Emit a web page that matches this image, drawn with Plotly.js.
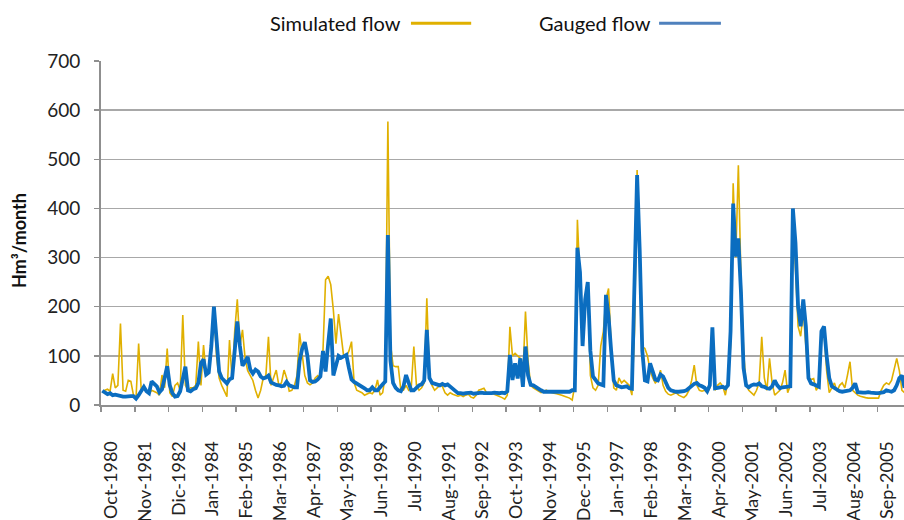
<!DOCTYPE html>
<html>
<head>
<meta charset="utf-8">
<script src="https://cdn.plot.ly/plotly-3.0.1.min.js"></script>
<style>html,body{margin:0;padding:0;background:#fff;}#chart{width:904px;height:520px;}</style>
</head>
<body>
<div id="chart"></div>
<script>
// Monthly series, Oct-1980 onward (Hm3/month)
const simulated = [
25,30,32,28,64,35,40,166,30,28,50,48,20,
15,125,30,35,28,22,30,28,25,20,61,35,
115,25,17,40,45,30,183,40,30,35,35,40,
129,40,122,60,65,110,195,100,55,40,30,17,
132,51,150,215,120,153,95,70,60,50,30,14,
30,55,60,139,40,55,71,40,45,71,55,28,
30,40,60,146,100,60,45,41,45,55,60,55,
110,255,262,245,193,125,185,140,98,98,110,129,
45,30,27,25,20,22,25,23,30,51,20,25,
60,577,125,80,78,78,30,30,40,30,35,119,
40,30,35,45,217,60,40,30,35,40,38,25,
20,25,22,20,18,20,17,20,22,16,14,20,
30,32,34,25,22,24,22,20,18,15,12,20,
159,100,105,100,95,60,190,90,40,35,32,28,
25,27,30,27,25,24,23,22,20,18,16,14,
10,40,377,250,125,200,245,60,35,30,40,120,
150,215,237,120,35,30,55,45,50,45,40,20,
150,478,300,119,115,100,70,55,45,50,71,40,
28,22,20,22,25,20,18,15,20,30,50,81,
40,30,28,30,25,35,150,30,40,45,38,20,
50,120,451,300,488,260,110,40,30,25,20,30,
45,139,55,30,95,45,20,25,30,45,71,25,
40,395,280,160,140,190,120,55,52,54,30,40,
130,150,70,25,35,45,28,40,45,35,60,88,
30,25,20,18,16,15,14,14,14,13,14,30,
40,45,42,50,75,95,70,30,25
];
const gauged = [
29,25,22,24,20,21,19,18,17,17,18,18,18,
13,20,30,37,28,24,48,42,38,26,32,55,
79,40,24,17,18,28,50,78,30,28,32,34,
45,85,93,62,66,120,200,130,68,55,50,44,
52,55,110,170,120,80,88,98,72,64,72,68,
58,54,56,60,46,43,41,40,38,39,47,40,
37,36,36,90,115,128,100,50,47,48,52,58,
110,68,125,176,60,78,100,96,100,102,75,52,
47,44,42,38,34,30,30,36,30,30,35,42,
48,346,90,45,35,30,28,38,61,45,30,30,
35,40,42,50,153,55,45,43,42,40,43,40,
42,38,32,28,24,24,23,24,24,25,23,24,
24,25,24,24,23,24,25,24,24,25,24,28,
102,51,85,54,95,37,119,60,41,40,36,34,
30,27,27,26,26,26,26,26,26,26,27,27,
30,30,320,270,120,215,250,110,58,50,44,42,
40,224,180,110,50,40,37,36,37,38,34,33,
250,468,315,110,50,48,85,66,52,50,62,58,
45,35,30,28,27,27,27,28,30,35,38,43,
45,40,38,35,28,40,158,34,35,36,37,34,
40,150,410,302,339,230,75,40,36,40,42,41,
44,38,37,34,33,38,50,40,34,36,37,37,
38,400,330,200,160,215,160,55,44,42,40,37,
150,160,100,55,38,34,30,28,27,28,30,30,
35,44,26,25,25,25,26,25,24,24,24,25,
26,30,28,27,30,40,55,60,35
];
const tickLabels = ['Oct-1980','Nov-1981','Dic-1982','Jan-1984','Feb-1985','Mar-1986','Apr-1987','May-1988','Jun-1989','Jul-1990','Aug-1991','Sep-1992','Oct-1993','Nov-1994','Dec-1995','Jan-1997','Feb-1998','Mar-1999','Apr-2000','May-2001','Jun-2002','Jul-2003','Aug-2004','Sep-2005'];
const seriesNames = ['Simulated flow', 'Gauged flow'];

const xs = gauged.map((_, i) => i + 0.5);
const tickPos = tickLabels.map((_, k) => 13 * k);
const labelPos = tickLabels.map((_, k) => 13 * k + 4);
const xRange = [0, 309.3];
const font = 'Lato, "Open Sans", sans-serif';
const gold = '#E0B000';
const blue = '#0B6DC0';

const traces = [
  {x: xs, y: simulated, type: 'scatter', mode: 'lines', name: seriesNames[0],
   line: {color: gold, width: 1.6}, hoverinfo: 'skip'},
  {x: xs, y: gauged, type: 'scatter', mode: 'lines', name: seriesNames[1],
   line: {color: blue, width: 3.8}, hoverinfo: 'skip'},
  {x: [], y: [], xaxis: 'x2', type: 'scatter', mode: 'lines', showlegend: false, hoverinfo: 'skip'}
];

const axisGray = '#8f8f8f';
const layout = {
  width: 904, height: 520,
  margin: {l: 101, r: 0, t: 61, b: 115},
  paper_bgcolor: '#fff', plot_bgcolor: '#fff',
  showlegend: false,
  font: {family: font, color: '#222'},
  xaxis: {
    range: xRange, tickmode: 'array', tickvals: labelPos, ticktext: tickLabels,
    tickangle: -90, ticks: 'outside', ticklen: 27, tickcolor: 'rgba(0,0,0,0)',
    showgrid: false, zeroline: false, showline: true, linecolor: axisGray, linewidth: 2,
    tickfont: {family: font, size: 18, color: '#222'}, fixedrange: true
  },
  xaxis2: {
    overlaying: 'x', anchor: 'y', side: 'bottom', range: xRange,
    tickmode: 'array', tickvals: tickPos, ticks: 'outside', ticklen: 6, tickwidth: 1.5,
    tickcolor: axisGray, showticklabels: false, showgrid: false, showline: false, zeroline: false
  },
  yaxis: {
    range: [0, 700], dtick: 100, tick0: 0,
    showgrid: true, gridcolor: '#a8a8a8', gridwidth: 1.5,
    showline: true, linecolor: axisGray, linewidth: 2, zeroline: false,
    ticks: 'outside', ticklen: 5, tickwidth: 1.5, tickcolor: axisGray,
    tickfont: {family: font, size: 19, color: '#222'}, ticklabelstandoff: 10
  },
  annotations: [
    {text: 'Hm³/month', xref: 'paper', yref: 'paper', x: -0.102, y: 0.477,
     xanchor: 'center', yanchor: 'middle', textangle: -90, showarrow: false,
     font: {family: font, size: 18, color: '#111', weight: 'bold'}},
    {text: seriesNames[0], xref: 'paper', yref: 'paper', x: 0.376, y: 1.11,
     xanchor: 'right', yanchor: 'middle', showarrow: false,
     font: {family: font, size: 20, color: '#111'}},
    {text: seriesNames[1], xref: 'paper', yref: 'paper', x: 0.687, y: 1.11,
     xanchor: 'right', yanchor: 'middle', showarrow: false,
     font: {family: font, size: 20, color: '#111'}}
  ],
  shapes: [
    {type: 'line', xref: 'paper', yref: 'paper', x0: 0.386, x1: 0.461, y0: 1.11, y1: 1.11,
     line: {color: gold, width: 3}},
    {type: 'line', xref: 'paper', yref: 'paper', x0: 0.695, x1: 0.772, y0: 1.11, y1: 1.11,
     line: {color: '#4F81BD', width: 3}}
  ]
};

Plotly.newPlot('chart', traces, layout, {staticPlot: true, displayModeBar: false});
</script>
</body>
</html>
